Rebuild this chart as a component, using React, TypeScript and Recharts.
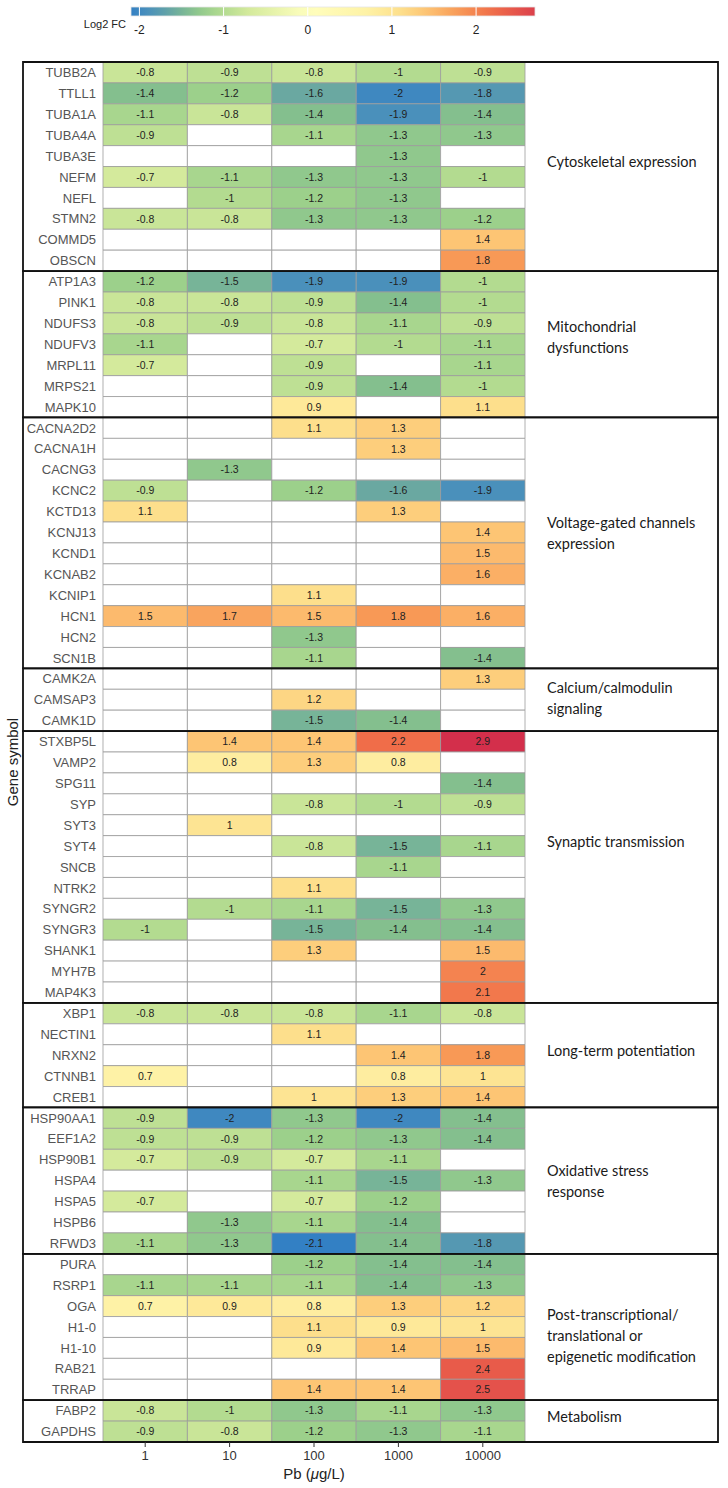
import React from "react"
import { ComposedChart, XAxis, YAxis, ReferenceArea } from "recharts"

const _ = null

const genes = [
  "TUBB2A", "TTLL1", "TUBA1A", "TUBA4A", "TUBA3E", "NEFM", "NEFL", "STMN2", "COMMD5", "OBSCN",
  "ATP1A3", "PINK1", "NDUFS3", "NDUFV3", "MRPL11", "MRPS21", "MAPK10",
  "CACNA2D2", "CACNA1H", "CACNG3", "KCNC2", "KCTD13", "KCNJ13", "KCND1", "KCNAB2", "KCNIP1", "HCN1", "HCN2", "SCN1B",
  "CAMK2A", "CAMSAP3", "CAMK1D",
  "STXBP5L", "VAMP2", "SPG11", "SYP", "SYT3", "SYT4", "SNCB", "NTRK2", "SYNGR2", "SYNGR3", "SHANK1", "MYH7B", "MAP4K3",
  "XBP1", "NECTIN1", "NRXN2", "CTNNB1", "CREB1",
  "HSP90AA1", "EEF1A2", "HSP90B1", "HSPA4", "HSPA5", "HSPB6", "RFWD3",
  "PURA", "RSRP1", "OGA", "H1-0", "H1-10", "RAB21", "TRRAP",
  "FABP2", "GAPDHS",
]

const groupNames = [
  "Cytoskeletal expression",
  "Mitochondrial\ndysfunctions",
  "Voltage-gated channels\nexpression",
  "Calcium/calmodulin\nsignaling",
  "Synaptic transmission",
  "Long-term potentiation",
  "Oxidative stress\nresponse",
  "Post-transcriptional/\ntranslational or\nepigenetic modification",
  "Metabolism",
]
const groupSizes = [10, 7, 12, 3, 13, 5, 7, 7, 2]

const concentrations = ["1", "10", "100", "1000", "10000"]

// log2 fold change per Pb concentration, null = not significant
const fc1 = [
  -0.8, -1.4, -1.1, -0.9, _, -0.7, _, -0.8, _, _,
  -1.2, -0.8, -0.8, -1.1, -0.7, _, _,
  _, _, _, -0.9, 1.1, _, _, _, _, 1.5, _, _,
  _, _, _,
  _, _, _, _, _, _, _, _, _, -1, _, _, _,
  -0.8, _, _, 0.7, _,
  -0.9, -0.9, -0.7, _, -0.7, _, -1.1,
  _, -1.1, 0.7, _, _, _, _,
  -0.8, -0.9,
]
const fc10 = [
  -0.9, -1.2, -0.8, _, _, -1.1, -1, -0.8, _, _,
  -1.5, -0.8, -0.9, _, _, _, _,
  _, _, -1.3, _, _, _, _, _, _, 1.7, _, _,
  _, _, _,
  1.4, 0.8, _, _, 1, _, _, _, -1, _, _, _, _,
  -0.8, _, _, _, _,
  -2, -0.9, -0.9, _, _, -1.3, -1.3,
  _, -1.1, 0.9, _, _, _, _,
  -1, -0.8,
]
const fc100 = [
  -0.8, -1.6, -1.4, -1.1, _, -1.3, -1.2, -1.3, _, _,
  -1.9, -0.9, -0.8, -0.7, -0.9, -0.9, 0.9,
  1.1, _, _, -1.2, _, _, _, _, 1.1, 1.5, -1.3, -1.1,
  _, 1.2, -1.5,
  1.4, 1.3, _, -0.8, _, -0.8, _, 1.1, -1.1, -1.5, 1.3, _, _,
  -0.8, 1.1, _, _, 1,
  -1.3, -1.2, -0.7, -1.1, -0.7, -1.1, -2.1,
  -1.2, -1.1, 0.8, 1.1, 0.9, _, 1.4,
  -1.3, -1.2,
]
const fc1000 = [
  -1, -2, -1.9, -1.3, -1.3, -1.3, -1.3, -1.3, _, _,
  -1.9, -1.4, -1.1, -1, _, -1.4, _,
  1.3, 1.3, _, -1.6, 1.3, _, _, _, _, 1.8, _, _,
  _, _, -1.4,
  2.2, 0.8, _, -1, _, -1.5, -1.1, _, -1.5, -1.4, _, _, _,
  -1.1, _, 1.4, 0.8, 1.3,
  -2, -1.3, -1.1, -1.5, -1.2, -1.4, -1.4,
  -1.4, -1.4, 1.3, 0.9, 1.4, _, 1.4,
  -1.1, -1.3,
]
const fc10000 = [
  -0.9, -1.8, -1.4, -1.3, _, -1, _, -1.2, 1.4, 1.8,
  -1, -1, -0.9, -1.1, -1.1, -1, 1.1,
  _, _, _, -1.9, _, 1.4, 1.5, 1.6, _, 1.6, _, -1.4,
  1.3, _, _,
  2.9, _, -1.4, -0.9, _, -1.1, _, _, -1.3, -1.4, 1.5, 2, 2.1,
  -0.8, _, 1.8, 1, 1.4,
  -1.4, -1.4, _, -1.3, _, _, -1.8,
  -1.4, -1.3, 1.2, 1, 1.5, 2.4, 2.5,
  -1.3, -1.1,
]

const legendTicks = [-2, -1, 0, 1, 2]
const legendRange = [-2.1, 2.7]

const columns = [fc1, fc10, fc100, fc1000, fc10000]

const SANS = "'Liberation Sans', Arial, Helvetica, sans-serif"
const LABEL_FONT = "Lato, 'Open Sans', sans-serif"

// spectral-like palette sampled from the figure
const STOPS: [number, string][] = [
  [-2.1, "#3380c4"],
  [-1.9, "#4a90bb"],
  [-1.6, "#6aa8a1"],
  [-1.4, "#84bf8e"],
  [-1.2, "#9cd08b"],
  [-1.0, "#b3db90"],
  [-0.7, "#d4ea9c"],
  [0, "#ffffbf"],
  [0.7, "#fef2a6"],
  [1.1, "#fddf8c"],
  [1.4, "#fdc574"],
  [1.8, "#f89956"],
  [2.2, "#f06d49"],
  [2.5, "#e4524b"],
  [2.9, "#d32f4b"],
]

function hexToRgb(h: string) {
  const n = parseInt(h.slice(1), 16)
  return [(n >> 16) & 255, (n >> 8) & 255, n & 255]
}

function colorFor(v: number) {
  if (v <= STOPS[0][0]) return STOPS[0][1]
  for (let i = 1; i < STOPS.length; i++) {
    const [v1, c1] = STOPS[i]
    if (v <= v1) {
      const [v0, c0] = STOPS[i - 1]
      const t = (v - v0) / (v1 - v0)
      const a = hexToRgb(c0)
      const b = hexToRgb(c1)
      const m = a.map((x, k) => Math.round(x + (b[k] - x) * t))
      return `rgb(${m[0]},${m[1]},${m[2]})`
    }
  }
  return STOPS[STOPS.length - 1][1]
}

// layout
const W = 728
const H = 1488
const MARGIN = { top: 62, right: 10, bottom: 0, left: 23 }
const YAXIS_W = 80
const XAXIS_H = 46
const COL_W = 84.4
const PLOT_W = W - MARGIN.left - MARGIN.right - YAXIS_W
const X_MAX = PLOT_W / COL_W
const X_LEFT = -YAXIS_W / COL_W
const labelShift = [-6, -8, -10, -2, -26, -5, 0, 8, -5]

function ColorBar() {
  const x0 = 131
  const w = 404
  const toX = (v: number) => x0 + ((v - legendRange[0]) / (legendRange[1] - legendRange[0])) * w
  const gradStops = []
  for (let i = 0; i <= 24; i++) {
    const v = legendRange[0] + ((legendRange[1] - legendRange[0]) * i) / 24
    gradStops.push(<stop key={i} offset={`${(i / 24) * 100}%`} stopColor={colorFor(v)} />)
  }
  return (
    <svg width={W} height={44} style={{ position: "absolute", left: 0, top: 0 }}>
      <defs>
        <linearGradient id="fcGrad" x1="0" x2="1" y1="0" y2="0">
          {gradStops}
        </linearGradient>
      </defs>
      <rect x={x0} y={7} width={w} height={9} fill="url(#fcGrad)" stroke="#e6e6e6" strokeWidth={0.8} />
      {legendTicks.map((t) => (
        <line key={`l${t}`} x1={toX(t)} x2={toX(t)} y1={7} y2={16} stroke="#fff" strokeWidth={1} />
      ))}
      {legendTicks.map((t) => (
        <text key={`t${t}`} x={toX(t)} y={34} textAnchor="middle" fontSize={12} fill="#222" fontFamily={SANS}>
          {t}
        </text>
      ))}
      <text x={126} y={28} textAnchor="end" fontSize={11} fill="#222" fontFamily={SANS}>
        Log2 FC
      </text>
    </svg>
  )
}

export default function App() {
  const groupStarts: number[] = []
  groupSizes.reduce((acc, n) => {
    groupStarts.push(acc)
    return acc + n
  }, 0)

  return (
    <div style={{ position: "absolute", left: 0, top: 0, width: W, height: H, background: "#fff" }}>
      <ColorBar />
      <ComposedChart width={W} height={H} margin={MARGIN}>
        <XAxis
          type="number"
          dataKey="x"
          domain={[0, X_MAX]}
          allowDataOverflow
          ticks={[0.5, 1.5, 2.5, 3.5, 4.5]}
          tickFormatter={(v: number) => concentrations[Math.floor(v)]}
          height={XAXIS_H}
          axisLine={false}
          tickSize={5}
          tickMargin={4}
          tickLine={{ stroke: "#333" }}
          tick={{ fontSize: 13, fill: "#333", fontFamily: SANS }}
          label={(props: any) => {
            const vb = props.viewBox
            return (
              <text x={vb.x + COL_W * 2.5} y={vb.y + 37} textAnchor="middle" fontSize={15} fill="#222" fontFamily={SANS}>
                Pb (<tspan fontStyle="italic">μ</tspan>g/L)
              </text>
            )
          }}
        />
        <YAxis
          type="number"
          dataKey="y"
          domain={[0, genes.length]}
          reversed
          allowDataOverflow
          ticks={genes.map((_g, i) => i + 0.5)}
          interval={0}
          tickFormatter={(v: number) => genes[Math.floor(v)]}
          width={YAXIS_W}
          axisLine={false}
          tickLine={false}
          tickSize={0}
          tickMargin={7}
          tick={{ fontSize: 13, fill: "#555", fontFamily: SANS }}
          label={(props: any) => {
            const vb = props.viewBox
            const cx = 12
            const cy = vb.y + vb.height / 2 + 10
            return (
              <text x={cx} y={cy} transform={`rotate(-90, ${cx}, ${cy})`} textAnchor="middle" dominantBaseline="central" fontSize={15} fill="#222" fontFamily={SANS}>
                Gene symbol
              </text>
            )
          }}
        />
        {genes.map((g, r) =>
          columns.map((col, c) => {
            const v = col[r]
            return (
              <ReferenceArea
                key={`${g}-${c}`}
                x1={c}
                x2={c + 1}
                y1={r}
                y2={r + 1}
                fill={v == null ? "#fff" : colorFor(v)}
                fillOpacity={1}
                stroke="#9c9c9c"
                strokeWidth={0.8}
                label={v == null ? undefined : { value: String(v), position: "center", fontSize: 10.5, fill: "#222", fontFamily: SANS }}
              />
            )
          })
        )}
        {groupNames.map((name, i) => {
          const y1 = groupStarts[i]
          const y2 = y1 + groupSizes[i]
          const lines = name.split("\n")
          return (
            <ReferenceArea
              key={`lab-${name}`}
              x1={5}
              x2={X_MAX}
              y1={y1}
              y2={y2}
              fill="none"
              stroke="none"
              label={(props: any) => {
                const vb = props.viewBox
                const lh = 21
                const cy = vb.y + vb.height / 2 + labelShift[i] - ((lines.length - 1) * lh) / 2
                return (
                  <text x={vb.x + 22} y={cy} fontSize={14.5} fill="#1a1a1a" fontFamily={LABEL_FONT} dominantBaseline="central">
                    {lines.map((ln, k) => (
                      <tspan key={k} x={vb.x + 22} y={cy + k * lh}>
                        {ln}
                      </tspan>
                    ))}
                  </text>
                )
              }}
            />
          )
        })}
        {groupNames.map((name, i) => (
          <ReferenceArea
            key={`box-${name}`}
            x1={X_LEFT}
            x2={X_MAX}
            y1={groupStarts[i]}
            y2={groupStarts[i] + groupSizes[i]}
            ifOverflow="visible"
            fill="none"
            fillOpacity={0}
            stroke="#111"
            strokeWidth={1.8}
          />
        ))}
      </ComposedChart>
    </div>
  )
}
